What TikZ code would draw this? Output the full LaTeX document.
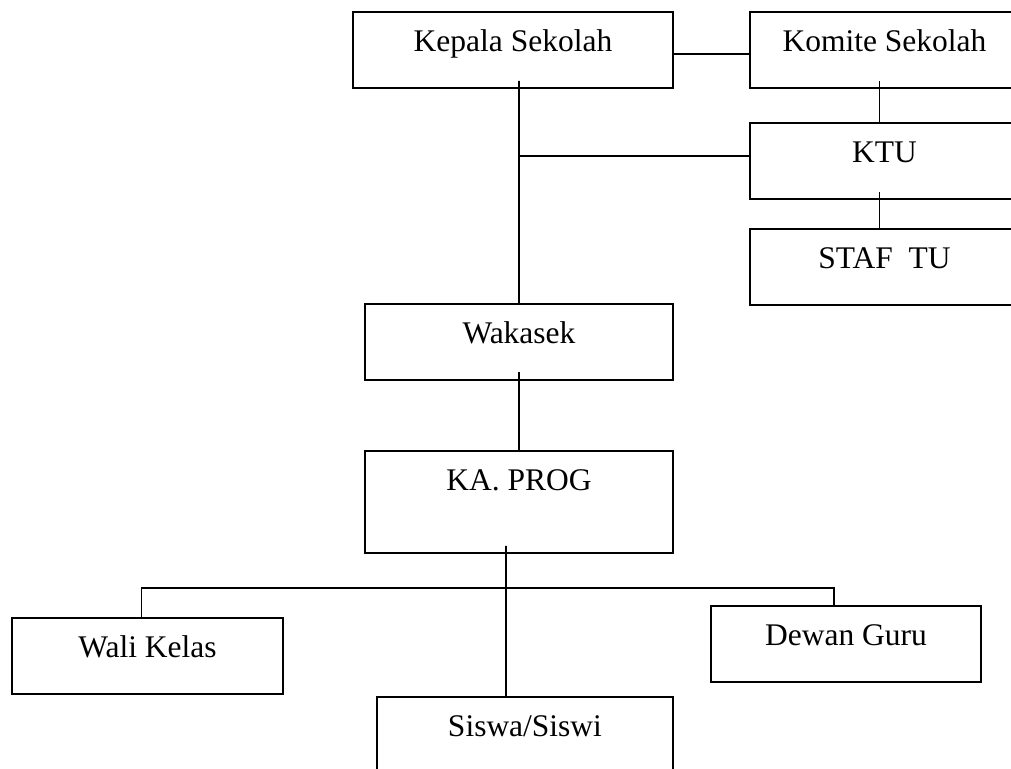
\documentclass[tikz,border=0pt]{standalone}
\usepackage{fontspec}
\setmainfont{Liberation Serif}
\usepackage{tikz}
\usetikzlibrary{positioning, calc}

\begin{document}
\begin{tikzpicture}[
    x=0.25mm, y=-0.25mm,
    box/.style={draw, line width=1.4pt, anchor=north west, inner xsep=0pt, inner ysep=0pt,
        text height=10mm, text depth=9mm, font=\fontsize{22.4}{26}\selectfont},
    link/.style={line width=1.1pt},
]
    \path[use as bounding box, clip] (0,0) rectangle (1011,768);

    % top row
    \node[box, minimum width=80mm] (kepala) at (352,11) {Kepala Sekolah};
    \node[box, minimum width=67.25mm] (komite) at (749,11) {Komite Sekolah};
    \node[box, minimum width=67.25mm] (ktu) at (749,122) {KTU};
    \node[box, minimum width=67.25mm] (staf) at (749,228) {STAF\ \ TU};

    % middle
    \node[box, minimum width=77mm] (wakasek) at (364,303) {Wakasek};
    \node[box, minimum width=77mm, text depth=15.5mm] (kaprog) at (364,450) {KA. PROG};

    % bottom row
    \node[box, minimum width=67.75mm] (wali) at (11,617) {Wali Kelas};
    \node[box, minimum width=67.5mm] (dewan) at (710,605) {Dewan Guru};
    \node[box, minimum width=74mm] (siswa) at (376,696) {Siswa/Siswi};

    \coordinate (kj) at ($(kepala.south)+(6,67)$);
    \coordinate (bar) at ($(kaprog.south)+(-13,34)$);

    \draw[link] ($(kepala.east)+(0,4)$) -- ($(komite.west)+(0,4)$);
    \draw[link] ($(kepala.south)+(6,-8)$) -- (wakasek.north);
    \draw[link] (kj) -- (kj -| ktu.west);
    \draw[link] ($(komite.south)+(-5,-8)$) -- ($(ktu.north)+(-5,0)$);
    \draw[link] ($(ktu.south)+(-5,-8)$) -- ($(staf.north)+(-5,0)$);
    \draw[link] ($(wakasek.south)+(0,-9)$) -- (kaprog.north);
    \draw[link] ($(kaprog.south)+(-13,-8)$) -- ($(siswa.north)+(-19,0)$);
    \draw[link] ($(wali.north)+(-6,0)$) |- (bar) -| ($(dewan.north)+(-12,0)$);
\end{tikzpicture}
\end{document}
